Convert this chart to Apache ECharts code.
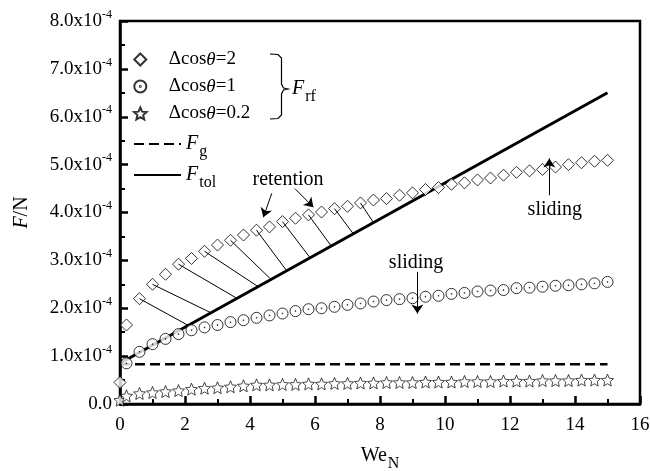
<!DOCTYPE html>
<html lang="en">
<head>
<meta charset="UTF-8">
<title>F vs WeN</title>
<style>
  * { margin: 0; padding: 0; }
  html, body { width: 100%; height: 100%; background: #fff; }
  #chart { width: 650px; height: 471px; }
</style>
</head>
<body>
<div id="chart"></div>
<script src="https://cdn.jsdelivr.net/npm/echarts@6/dist/echarts.min.js"></script>
<script>
// forces are in units of 1e-4 N
const weN   = [0, 0.2, 0.6, 1.0, 1.4, 1.8, 2.2, 2.6, 3.0, 3.4, 3.8, 4.2, 4.6, 5.0, 5.4, 5.8, 6.2, 6.6, 7.0, 7.4, 7.8,
               8.2, 8.6, 9.0, 9.4, 9.8, 10.2, 10.6, 11.0, 11.4, 11.8, 12.2, 12.6, 13.0, 13.4, 13.8, 14.2, 14.6, 15.0];
const frf2  = [0.45, 1.65, 2.20, 2.50, 2.71, 2.92, 3.04, 3.19, 3.32, 3.42, 3.53, 3.63, 3.70, 3.81, 3.88, 3.95, 4.01, 4.08, 4.13, 4.20, 4.26,
               4.29, 4.36, 4.41, 4.48, 4.52, 4.59, 4.62, 4.68, 4.72, 4.78, 4.84, 4.87, 4.90, 4.95, 5.00, 5.04, 5.07, 5.09];
const frf1  = [null, 0.85, 1.09, 1.25, 1.36, 1.46, 1.54, 1.60, 1.65, 1.71, 1.75, 1.80, 1.85, 1.89, 1.94, 1.98, 2.00, 2.03, 2.07, 2.10, 2.14,
               2.17, 2.19, 2.21, 2.24, 2.26, 2.30, 2.32, 2.35, 2.37, 2.38, 2.42, 2.43, 2.45, 2.47, 2.48, 2.50, 2.52, 2.55];
const frf02 = [0.08, 0.17, 0.22, 0.24, 0.26, 0.28, 0.31, 0.33, 0.34, 0.36, 0.38, 0.40, 0.40, 0.41, 0.41, 0.42, 0.42, 0.43, 0.43, 0.44, 0.44,
               0.45, 0.45, 0.45, 0.46, 0.46, 0.46, 0.47, 0.47, 0.47, 0.48, 0.48, 0.48, 0.49, 0.49, 0.49, 0.50, 0.50, 0.50];
const lineX = [0, 15];
const fg    = [0.83, 0.83];
const ftol  = [0.85, 6.50];

// retention segments: from a diamond (x) down to the F_tol line (x)
const retFrom = [0.6, 1.0, 1.8, 2.6, 3.4, 4.2, 5.0, 5.8, 6.6, 7.4];
const retTo   = [2.10, 2.80, 3.60, 4.25, 4.65, 5.13, 5.85, 6.50, 7.18, 7.80];

// annotation texts and arrows (data coords)
const notes  = [['retention', 5.17, 4.68], ['sliding', 13.38, 4.05], ['sliding', 9.11, 2.96]];
const arrows = [[4.67, 4.40, 4.41, 3.90], [5.38, 4.50, 5.95, 4.11], [13.21, 4.36, 13.21, 5.13], [9.15, 2.76, 9.15, 1.89]];

const names = ['Δcosθ=2', 'Δcosθ=1', 'Δcosθ=0.2', 'Fg', 'Ftol'];

const serif = "'Liberation Serif', 'Times New Roman', 'DejaVu Serif', serif";
const pairs = arr => weN.map((x, i) => [x, arr[i]]).filter(p => p[1] != null);
const ftolAt = x => ftol[0] + (ftol[1] - ftol[0]) * (x - lineX[0]) / (lineX[1] - lineX[0]);

const diamondPath = 'path://M0,-10L10,0L0,10L-10,0Z';
const starPath = 'path://M0,-10L2.7,-3.7L9.5,-3.1L4.4,1.4L5.9,8.1L0,4.6L-5.9,8.1L-4.4,1.4L-9.5,-3.1L-2.7,-3.7Z';
const ringPath = 'path://M0,-10A10,10 0 1,1 0,10A10,10 0 1,1 0,-10ZM0,-0.8A0.8,0.8 0 1,1 0,0.8A0.8,0.8 0 1,1 0,-0.8Z';

const subRich = {
    i: { fontFamily: serif, fontSize: 20, fontStyle: 'italic', color: '#000', lineHeight: 20 },
    r: { fontFamily: serif, fontSize: 20, color: '#000', lineHeight: 20 },
    s: { fontFamily: serif, fontSize: 16, color: '#000', lineHeight: 16, padding: [16, 0, 0, 1] },
    n: { fontFamily: serif, fontSize: 19, color: '#000', lineHeight: 20 },
    t: { fontFamily: serif, fontSize: 19, fontStyle: 'italic', color: '#000', lineHeight: 20 }
};

function legendText(name) {
    if (name === 'Fg') return '{i|F}{s|g}';
    if (name === 'Ftol') return '{i|F}{s|tol}';
    const m = name.split('θ');
    return '{n|' + m[0] + '}{t|θ}{n|' + m[1] + '}';
}

// line legend items: hide the marker that ECharts puts in the middle of a line icon
const noDot = { color: 'rgba(0,0,0,0)', borderColor: 'rgba(0,0,0,0)', borderWidth: 0 };

function legendBlock(top, data) {
    return {
        orient: 'vertical', left: 133, top: top, padding: 0,
        itemWidth: 47, itemHeight: 12, itemGap: 8,
        selectedMode: false, symbolKeepAspect: true,
        data: data,
        formatter: legendText,
        textStyle: { rich: subRich }
    };
}

const retention = retFrom.map((x, i) => [
    { coord: [x, frf2[weN.indexOf(x)]] },
    { coord: [retTo[i], ftolAt(retTo[i])] }
]);

const arrowLines = arrows.map(a => [{ coord: [a[0], a[1]] }, { coord: [a[2], a[3]] }]);

const noteLabels = notes.map(n => ({ name: n[0], coord: [n[1], n[2]] }));

const myChart = echarts.init(document.getElementById('chart'));

const option = {
    animation: false,
    backgroundColor: '#fff',
    textStyle: { fontFamily: serif },
    grid: {
        left: 120, right: 10, top: 21, bottom: 67,
        show: true, borderColor: '#000', borderWidth: 2.5,
        outerBoundsMode: 'none'
    },
    legend: [
        legendBlock(50, names.slice(0, 3)),
        legendBlock(128, [{ name: names[3], itemStyle: noDot }]),
        legendBlock(159, [{ name: names[4], itemStyle: noDot }])
    ],
    xAxis: {
        type: 'value', min: 0, max: 16, interval: 2,
        name: '{r|We}{s|N}',
        nameLocation: 'middle', nameGap: 34,
        nameTextStyle: { rich: subRich },
        axisLine: { lineStyle: { color: '#000', width: 2.5 } },
        axisTick: { inside: true, length: 8, lineStyle: { width: 2.5 } },
        minorTick: { show: true, splitNumber: 2, length: 5, lineStyle: { color: '#000', width: 2 } },
        splitLine: { show: false },
        axisLabel: { color: '#000', fontFamily: serif, fontSize: 19, margin: 12 }
    },
    yAxis: {
        type: 'value', min: 0, max: 8, interval: 1,
        name: '{i|F}{r|/N}',
        nameLocation: 'middle', nameGap: 88,
        nameTextStyle: { rich: subRich },
        axisLine: { lineStyle: { color: '#000', width: 2.5 } },
        axisTick: { inside: true, length: 8, lineStyle: { width: 2.5 } },
        minorTick: { show: true, splitNumber: 2, length: 5, lineStyle: { color: '#000', width: 2 } },
        splitLine: { show: false },
        axisLabel: {
            margin: 8,
            formatter: v => v === 0 ? '{a|0.0}' : '{a|' + v.toFixed(1) + 'x10}{b|-4}',
            rich: {
                a: { fontFamily: serif, fontSize: 19, color: '#000', lineHeight: 20 },
                b: { fontFamily: serif, fontSize: 12, color: '#000', lineHeight: 12, padding: [0, 0, 13, 0] }
            }
        }
    },
    graphic: [
        {
            type: 'polyline', z: 10,
            shape: { points: [[270, 54], [278, 54.5], [281.5, 58], [281.5, 84], [283.5, 88], [288, 89], [283.5, 90], [281.5, 94], [281.5, 115], [278, 118.5], [270, 119]] },
            style: { fill: null, stroke: '#000', lineWidth: 1.2 }
        },
        {
            type: 'text', z: 10, x: 292, y: 89,
            style: { text: '{i|F}{s|rf}', rich: subRich, verticalAlign: 'middle' }
        }
    ],
    series: [
        {
            name: names[0], type: 'scatter', data: pairs(frf2), z: 4,
            symbol: diamondPath, symbolSize: 12, symbolKeepAspect: true,
            itemStyle: { color: '#fff', borderColor: '#000', borderWidth: 1 }
        },
        {
            name: names[1], type: 'scatter', data: pairs(frf1), z: 4,
            symbol: ringPath, symbolSize: 11,
            itemStyle: { color: '#fff', borderColor: '#000', borderWidth: 1 }
        },
        {
            name: names[2], type: 'scatter', data: pairs(frf02), z: 4,
            symbol: starPath, symbolSize: 12,
            itemStyle: { color: '#fff', borderColor: '#000', borderWidth: 0.9 }
        },
        {
            name: names[3], type: 'line', data: lineX.map((x, i) => [x, fg[i]]),
            symbol: 'none', showSymbol: false,
            itemStyle: { color: '#000' },
            lineStyle: { color: '#000', width: 2.5, type: [10, 5] },
            markLine: {
                silent: true, animation: false,
                symbol: ['none', 'arrow'], symbolSize: 9,
                label: { show: false },
                lineStyle: { color: '#000', width: 1, type: 'solid' },
                data: arrowLines
            },
            markPoint: {
                silent: true, symbol: 'circle', symbolSize: 0,
                label: { show: true, formatter: '{b}', color: '#000', fontFamily: serif, fontSize: 20 },
                data: noteLabels
            }
        },
        {
            name: names[4], type: 'line', data: lineX.map((x, i) => [x, ftol[i]]),
            symbol: 'none', showSymbol: false, z: 3,
            itemStyle: { color: '#000' },
            lineStyle: { color: '#000', width: 3 },
            markLine: {
                silent: true, animation: false,
                symbol: 'none',
                label: { show: false },
                lineStyle: { color: '#000', width: 1, type: 'solid' },
                data: retention
            }
        }
    ]
};

myChart.setOption(option);
</script>
</body>
</html>
